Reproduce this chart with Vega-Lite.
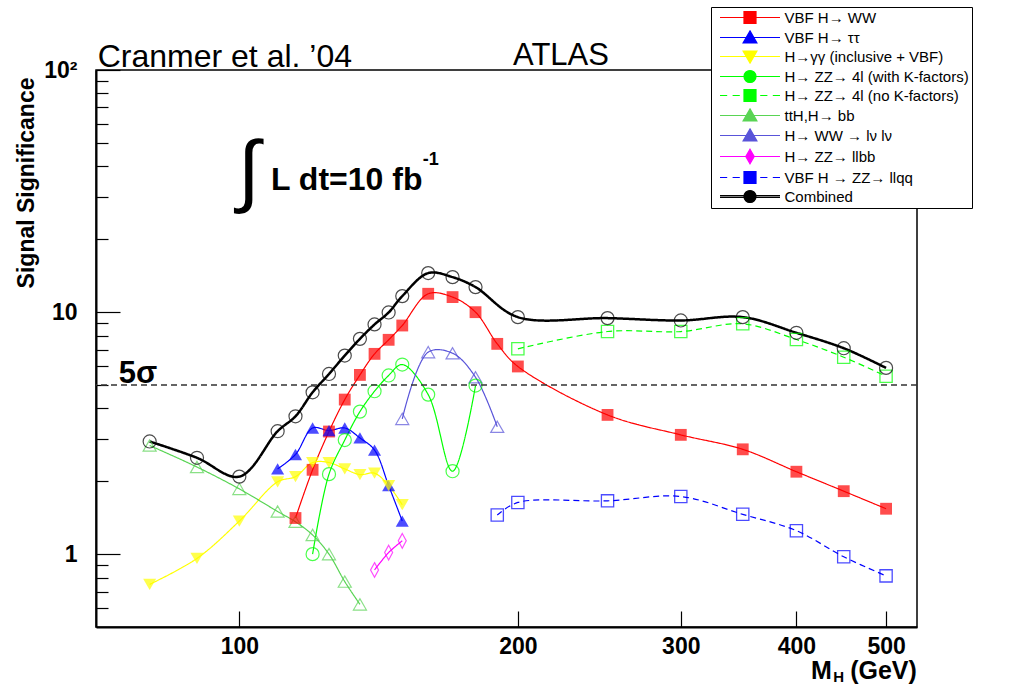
{
  "$schema": "https://vega.github.io/schema/vega-lite/v6.json",
  "autosize": {"type": "none"},
  "padding": {"left": 96, "top": 70, "right": 98, "bottom": 58},
  "width": 821,
  "height": 557,
  "background": "white",
  "config": {
    "font": "Liberation Sans",
    "view": {"stroke": "black", "strokeWidth": 1.5},
    "axis": {"grid": false, "domainColor": "black", "tickColor": "black", "labelColor": "black", "titleColor": "black"},
    "legend": {"symbolFillColor": "transparent", "symbolStrokeColor": "black", "symbolOpacity": 1}
  },
  "data": {
    "values": [
      {"series": "VBF H→ WW", "m": 115, "s": 1.41},
      {"series": "VBF H→ WW", "m": 120, "s": 2.23},
      {"series": "VBF H→ WW", "m": 125, "s": 3.21},
      {"series": "VBF H→ WW", "m": 130, "s": 4.35},
      {"series": "VBF H→ WW", "m": 135, "s": 5.5},
      {"series": "VBF H→ WW", "m": 140, "s": 6.72},
      {"series": "VBF H→ WW", "m": 145, "s": 7.68},
      {"series": "VBF H→ WW", "m": 150, "s": 8.8},
      {"series": "VBF H→ WW", "m": 160, "s": 11.9},
      {"series": "VBF H→ WW", "m": 170, "s": 11.53},
      {"series": "VBF H→ WW", "m": 180, "s": 9.99},
      {"series": "VBF H→ WW", "m": 190, "s": 7.39},
      {"series": "VBF H→ WW", "m": 200, "s": 5.96},
      {"series": "VBF H→ WW", "m": 250, "s": 3.76},
      {"series": "VBF H→ WW", "m": 300, "s": 3.11},
      {"series": "VBF H→ WW", "m": 350, "s": 2.71},
      {"series": "VBF H→ WW", "m": 400, "s": 2.19},
      {"series": "VBF H→ WW", "m": 450, "s": 1.82},
      {"series": "VBF H→ WW", "m": 500, "s": 1.54},
      {"series": "VBF H→ ττ", "m": 110, "s": 2.25},
      {"series": "VBF H→ ττ", "m": 115, "s": 2.58},
      {"series": "VBF H→ ττ", "m": 120, "s": 3.32},
      {"series": "VBF H→ ττ", "m": 125, "s": 3.24},
      {"series": "VBF H→ ττ", "m": 130, "s": 3.32},
      {"series": "VBF H→ ττ", "m": 135, "s": 3.02},
      {"series": "VBF H→ ττ", "m": 140, "s": 2.69},
      {"series": "VBF H→ ττ", "m": 145, "s": 1.92},
      {"series": "VBF H→ ττ", "m": 150, "s": 1.37},
      {"series": "H→γγ (inclusive + VBF)", "m": 80, "s": 0.75},
      {"series": "H→γγ (inclusive + VBF)", "m": 90, "s": 0.96},
      {"series": "H→γγ (inclusive + VBF)", "m": 100, "s": 1.37},
      {"series": "H→γγ (inclusive + VBF)", "m": 110, "s": 1.99},
      {"series": "H→γγ (inclusive + VBF)", "m": 115, "s": 2.09},
      {"series": "H→γγ (inclusive + VBF)", "m": 120, "s": 2.39},
      {"series": "H→γγ (inclusive + VBF)", "m": 125, "s": 2.39},
      {"series": "H→γγ (inclusive + VBF)", "m": 130, "s": 2.25},
      {"series": "H→γγ (inclusive + VBF)", "m": 135, "s": 2.13},
      {"series": "H→γγ (inclusive + VBF)", "m": 140, "s": 2.16},
      {"series": "H→γγ (inclusive + VBF)", "m": 145, "s": 1.92},
      {"series": "H→γγ (inclusive + VBF)", "m": 150, "s": 1.6},
      {"series": "H→ ZZ→ 4l (with K-factors)", "m": 120, "s": 1.0},
      {"series": "H→ ZZ→ 4l (with K-factors)", "m": 125, "s": 2.14},
      {"series": "H→ ZZ→ 4l (with K-factors)", "m": 130, "s": 2.96},
      {"series": "H→ ZZ→ 4l (with K-factors)", "m": 135, "s": 3.88},
      {"series": "H→ ZZ→ 4l (with K-factors)", "m": 140, "s": 4.71},
      {"series": "H→ ZZ→ 4l (with K-factors)", "m": 145, "s": 5.47},
      {"series": "H→ ZZ→ 4l (with K-factors)", "m": 150, "s": 6.07},
      {"series": "H→ ZZ→ 4l (with K-factors)", "m": 160, "s": 4.56},
      {"series": "H→ ZZ→ 4l (with K-factors)", "m": 170, "s": 2.2},
      {"series": "H→ ZZ→ 4l (with K-factors)", "m": 180, "s": 4.97},
      {"series": "H→ ZZ→ 4l (no K-factors)", "m": 200, "s": 7.05},
      {"series": "H→ ZZ→ 4l (no K-factors)", "m": 250, "s": 8.31},
      {"series": "H→ ZZ→ 4l (no K-factors)", "m": 300, "s": 8.31},
      {"series": "H→ ZZ→ 4l (no K-factors)", "m": 350, "s": 8.94},
      {"series": "H→ ZZ→ 4l (no K-factors)", "m": 400, "s": 7.7},
      {"series": "H→ ZZ→ 4l (no K-factors)", "m": 450, "s": 6.51},
      {"series": "H→ ZZ→ 4l (no K-factors)", "m": 500, "s": 5.43},
      {"series": "ttH,H→ bb", "m": 80, "s": 2.81},
      {"series": "ttH,H→ bb", "m": 90, "s": 2.29},
      {"series": "ttH,H→ bb", "m": 100, "s": 1.86},
      {"series": "ttH,H→ bb", "m": 110, "s": 1.5},
      {"series": "ttH,H→ bb", "m": 115, "s": 1.36},
      {"series": "ttH,H→ bb", "m": 120, "s": 1.2},
      {"series": "ttH,H→ bb", "m": 125, "s": 1.0},
      {"series": "ttH,H→ bb", "m": 130, "s": 0.77},
      {"series": "ttH,H→ bb", "m": 135, "s": 0.62},
      {"series": "H→ WW → lν lν", "m": 150, "s": 3.62},
      {"series": "H→ WW → lν lν", "m": 160, "s": 6.83},
      {"series": "H→ WW → lν lν", "m": 170, "s": 6.76},
      {"series": "H→ WW → lν lν", "m": 180, "s": 5.38},
      {"series": "H→ WW → lν lν", "m": 190, "s": 3.36},
      {"series": "H→ ZZ→ llbb", "m": 140, "s": 0.86},
      {"series": "H→ ZZ→ llbb", "m": 145, "s": 1.015},
      {"series": "H→ ZZ→ llbb", "m": 150, "s": 1.135},
      {"series": "VBF H → ZZ→ llqq", "m": 190, "s": 1.45},
      {"series": "VBF H → ZZ→ llqq", "m": 200, "s": 1.635},
      {"series": "VBF H → ZZ→ llqq", "m": 250, "s": 1.66},
      {"series": "VBF H → ZZ→ llqq", "m": 300, "s": 1.73},
      {"series": "VBF H → ZZ→ llqq", "m": 350, "s": 1.46},
      {"series": "VBF H → ZZ→ llqq", "m": 400, "s": 1.25},
      {"series": "VBF H → ZZ→ llqq", "m": 450, "s": 0.975},
      {"series": "VBF H → ZZ→ llqq", "m": 500, "s": 0.813},
      {"series": "Combined", "m": 80, "s": 2.92},
      {"series": "Combined", "m": 90, "s": 2.5},
      {"series": "Combined", "m": 100, "s": 2.09},
      {"series": "Combined", "m": 110, "s": 3.22},
      {"series": "Combined", "m": 115, "s": 3.71},
      {"series": "Combined", "m": 120, "s": 4.66},
      {"series": "Combined", "m": 125, "s": 5.55},
      {"series": "Combined", "m": 130, "s": 6.61},
      {"series": "Combined", "m": 135, "s": 7.75},
      {"series": "Combined", "m": 140, "s": 8.89},
      {"series": "Combined", "m": 145, "s": 9.96},
      {"series": "Combined", "m": 150, "s": 11.64},
      {"series": "Combined", "m": 160, "s": 14.49},
      {"series": "Combined", "m": 170, "s": 13.94},
      {"series": "Combined", "m": 180, "s": 12.68},
      {"series": "Combined", "m": 200, "s": 9.53},
      {"series": "Combined", "m": 250, "s": 9.44},
      {"series": "Combined", "m": 300, "s": 9.23},
      {"series": "Combined", "m": 350, "s": 9.53},
      {"series": "Combined", "m": 400, "s": 8.21},
      {"series": "Combined", "m": 450, "s": 7.09},
      {"series": "Combined", "m": 500, "s": 5.88}
    ]
  },
  "resolve": {"axis": {"x": "independent", "y": "independent"}},
  "layer": [
    {
      "mark": {"type": "point", "filled": false, "opacity": 0},
      "encoding": {
        "x": {"field": "m", "type": "quantitative", "axis": null},
        "y": {"field": "s", "type": "quantitative", "axis": null},
        "color": {
          "field": "series", "type": "nominal",
          "legend": {
            "orient": "none", "legendX": 615, "legendY": -63, "title": null,
            "fillColor": "white", "strokeColor": "black", "padding": 3,
            "labelFont": "Liberation Sans", "labelFontSize": 15, "labelColor": "black", "labelLimit": 400,
            "symbolSize": 144, "symbolStrokeWidth": 1.2, "symbolOffset": 28.5, "labelOffset": 27, "rowPadding": 2,
            "symbolFillColor": "transparent", "symbolStrokeColor": "black", "symbolOpacity": 1
          }
        },
        "shape": {
          "field": "series", "type": "nominal",
          "scale": {
            "domain": ["VBF H→ WW", "VBF H→ ττ", "H→γγ (inclusive + VBF)", "H→ ZZ→ 4l (with K-factors)", "H→ ZZ→ 4l (no K-factors)", "ttH,H→ bb", "H→ WW → lν lν", "H→ ZZ→ llbb", "VBF H → ZZ→ llqq", "Combined"],
            "range": [
              "M-5,0H5M-1,-1H1V1H-1Z",
              "M-5,0H5M0,-1.1L1.15,0.9L-1.15,0.9Z",
              "M-5,0H5M0,1.1L1.15,-0.9L-1.15,-0.9Z",
              "M-5,0H5M-1,0A1,1,0,1,0,1,0A1,1,0,1,0,-1,0Z",
              "M-5,0H-3.8M-2.9,0H-1.7M1.7,0H2.9M3.8,0H5M-1,-1H1V1H-1Z",
              "M-5,0H5M0,-1.1L1.15,0.9L-1.15,0.9Z",
              "M-5,0H5M0,-1.1L1.15,0.9L-1.15,0.9Z",
              "M-5,0H5M0,-1.2L0.7,0L0,1.2L-0.7,0Z",
              "M-5,0H-3.8M-2.9,0H-1.7M1.7,0H2.9M3.8,0H5M-1,-1H1V1H-1Z",
              "M-5,-0.15H5M-5,0.15H5M-1,0A1,1,0,1,0,1,0A1,1,0,1,0,-1,0Z"
            ]
          }
        },
        "fill": {
          "field": "series", "type": "nominal",
          "scale": {
            "domain": ["VBF H→ WW", "VBF H→ ττ", "H→γγ (inclusive + VBF)", "H→ ZZ→ 4l (with K-factors)", "H→ ZZ→ 4l (no K-factors)", "ttH,H→ bb", "H→ WW → lν lν", "H→ ZZ→ llbb", "VBF H → ZZ→ llqq", "Combined"],
            "range": ["#ff0000", "#0000ff", "#ffff00", "transparent", "transparent", "transparent", "transparent", "transparent", "transparent", "transparent"]
          }
        }
      }
    },
    {
      "mark": {"type": "line", "interpolate": "catmull-rom"},
      "encoding": {
        "x": {
          "field": "m", "type": "quantitative",
          "scale": {"type": "log", "domain": [70, 540], "nice": false, "zero": false},
          "axis": {
            "orient": "bottom", "values": [100, 200, 300, 400, 500], "format": "d",
            "tickSize": -16, "tickWidth": 1.2, "domainWidth": 2, "labelPadding": 24,
            "labelFont": "Liberation Sans", "labelFontSize": 23, "labelFontWeight": "bold",
            "labelFlush": false, "labelOverlap": false, "title": null, "grid": false
          }
        },
        "y": {
          "field": "s", "type": "quantitative",
          "scale": {"type": "log", "domain": [0.5, 100], "nice": false, "zero": false},
          "axis": {
            "orient": "left", "values": [1, 10, 100],
            "labelExpr": "datum.value >= 100 ? '10²' : (datum.value >= 10 ? '10' : '1')",
            "tickSize": -24, "tickWidth": 1.2, "domainWidth": 2, "labelPadding": 43,
            "labelFont": "Liberation Sans", "labelFontSize": 23, "labelFontWeight": "bold",
            "labelFlush": false, "labelOverlap": false,
            "title": "Signal Significance", "titleFont": "Liberation Sans", "titleFontSize": 23,
            "titleFontWeight": "bold", "titleAngle": -90, "titleAlign": "right", "titleBaseline": "alphabetic",
            "titleX": -63, "titleY": 7
          }
        },
        "color": {
          "field": "series", "type": "nominal",
          "scale": {
            "domain": ["VBF H→ WW", "VBF H→ ττ", "H→γγ (inclusive + VBF)", "H→ ZZ→ 4l (with K-factors)", "H→ ZZ→ 4l (no K-factors)", "ttH,H→ bb", "H→ WW → lν lν", "H→ ZZ→ llbb", "VBF H → ZZ→ llqq", "Combined"],
            "range": ["#ff0000", "#0000ff", "#ffff00", "#00ff00", "#00ff00", "#59d454", "#5954d9", "#ff00ff", "#0000ff", "#000000"]
          },
          "legend": null
        },
        "strokeWidth": {"condition": {"test": "datum.series === 'Combined'", "value": 2.5}, "value": 1.2},
        "strokeDash": {"condition": {"test": "indexof(['H→ ZZ→ 4l (no K-factors)', 'VBF H → ZZ→ llqq'], datum.series) >= 0", "value": [6, 4]}, "value": [1, 0]}
      }
    },
    {
      "transform": [{"filter": "indexof(['H→ ZZ→ 4l (no K-factors)', 'VBF H → ZZ→ llqq'], datum.series) >= 0"}],
      "mark": {"type": "point", "filled": false, "shape": "square", "size": 150, "strokeWidth": 1.3},
      "encoding": {
        "x": {"field": "m", "type": "quantitative", "axis": null},
        "y": {
          "field": "s", "type": "quantitative",
          "axis": {
            "orient": "left", "values": [0.6, 0.7, 0.8, 0.9, 2, 3, 4, 5, 6, 7, 8, 9, 20, 30, 40, 50, 60, 70, 80, 90],
            "labels": false, "domain": false, "tickSize": -12, "tickWidth": 1.2, "title": null, "grid": false
          }
        },
        "color": {"field": "series", "type": "nominal", "legend": null}
      }
    },
    {
      "transform": [{"filter": "indexof(['ttH,H→ bb', 'H→ WW → lν lν'], datum.series) >= 0"}],
      "mark": {"type": "point", "filled": false, "shape": "triangle-up", "size": 170, "strokeWidth": 1.2},
      "encoding": {
        "x": {"field": "m", "type": "quantitative", "axis": null},
        "y": {"field": "s", "type": "quantitative", "axis": null},
        "color": {"field": "series", "type": "nominal", "legend": null}
      }
    },
    {
      "transform": [{"filter": "datum.series === 'H→ ZZ→ llbb'"}],
      "mark": {"type": "point", "filled": false, "shape": "M0,-1.2L0.65,0L0,1.2L-0.65,0Z", "size": 150, "strokeWidth": 1.2},
      "encoding": {
        "x": {"field": "m", "type": "quantitative", "axis": null},
        "y": {"field": "s", "type": "quantitative", "axis": null},
        "color": {"field": "series", "type": "nominal", "legend": null}
      }
    },
    {
      "transform": [{"filter": "datum.series === 'VBF H→ WW'"}],
      "mark": {"type": "point", "filled": true, "shape": "square", "size": 140, "strokeWidth": 1},
      "encoding": {
        "x": {"field": "m", "type": "quantitative", "axis": null},
        "y": {"field": "s", "type": "quantitative", "axis": null},
        "color": {"field": "series", "type": "nominal", "legend": null}
      }
    },
    {
      "transform": [{"filter": "datum.series === 'VBF H→ ττ'"}],
      "mark": {"type": "point", "filled": true, "shape": "triangle-up", "size": 170, "strokeWidth": 1},
      "encoding": {
        "x": {"field": "m", "type": "quantitative", "axis": null},
        "y": {"field": "s", "type": "quantitative", "axis": null},
        "color": {"field": "series", "type": "nominal", "legend": null}
      }
    },
    {
      "transform": [{"filter": "datum.series === 'H→γγ (inclusive + VBF)'"}],
      "mark": {"type": "point", "filled": true, "shape": "triangle-down", "size": 170, "strokeWidth": 1},
      "encoding": {
        "x": {"field": "m", "type": "quantitative", "axis": null},
        "y": {"field": "s", "type": "quantitative", "axis": null},
        "color": {"field": "series", "type": "nominal", "legend": null}
      }
    },
    {
      "transform": [{"filter": "indexof(['H→ ZZ→ 4l (with K-factors)', 'Combined'], datum.series) >= 0"}],
      "mark": {"type": "point", "filled": false, "shape": "circle", "size": 170, "strokeWidth": 1.2},
      "encoding": {
        "x": {"field": "m", "type": "quantitative", "axis": null},
        "y": {"field": "s", "type": "quantitative", "axis": null},
        "color": {"field": "series", "type": "nominal", "legend": null}
      }
    },
    {
      "data": {"values": [{"label": "5σ"}]},
      "mark": {"type": "rule", "color": "#333333", "strokeWidth": 1.5, "strokeDash": [6, 4]},
      "encoding": {
        "y": {"datum": 5, "type": "quantitative", "axis": null}
      }
    },
    {
      "data": {"values": [{"label": "Cranmer et al. ’04"}]},
      "mark": {"type": "text", "align": "left", "baseline": "alphabetic", "font": "Liberation Sans", "fontSize": 32, "color": "black"},
      "encoding": {"x": {"datum": 70.3, "type": "quantitative", "axis": null}, "y": {"datum": 103.3, "type": "quantitative", "axis": null}, "text": {"field": "label"}}
    },
    {
      "data": {"values": [{"label": "ATLAS"}]},
      "mark": {"type": "text", "align": "left", "baseline": "alphabetic", "font": "Liberation Sans", "fontSize": 31, "color": "black"},
      "encoding": {"x": {"datum": 197.6, "type": "quantitative", "axis": null}, "y": {"datum": 104.8, "type": "quantitative", "axis": null}, "text": {"field": "label"}}
    },
    {
      "data": {"values": [{"label": "∫"}]},
      "mark": {"type": "text", "align": "center", "baseline": "alphabetic", "font": "Liberation Sans", "fontSize": 80, "color": "black"},
      "encoding": {"x": {"datum": 102.4, "type": "quantitative", "axis": null}, "y": {"datum": 29.8, "type": "quantitative", "axis": null}, "text": {"field": "label"}}
    },
    {
      "data": {"values": [{"label": "L dt=10 fb"}]},
      "mark": {"type": "text", "align": "left", "baseline": "alphabetic", "font": "Liberation Sans", "fontSize": 32, "fontWeight": "bold", "color": "black"},
      "encoding": {"x": {"datum": 108.2, "type": "quantitative", "axis": null}, "y": {"datum": 31.85, "type": "quantitative", "axis": null}, "text": {"field": "label"}}
    },
    {
      "data": {"values": [{"label": "-1"}]},
      "mark": {"type": "text", "align": "left", "baseline": "alphabetic", "font": "Liberation Sans", "fontSize": 18, "fontWeight": "bold", "color": "black"},
      "encoding": {"x": {"datum": 157.8, "type": "quantitative", "axis": null}, "y": {"datum": 40.4, "type": "quantitative", "axis": null}, "text": {"field": "label"}}
    },
    {
      "data": {"values": [{"label": "5σ"}]},
      "mark": {"type": "text", "align": "left", "baseline": "alphabetic", "font": "Liberation Sans", "fontSize": 31, "fontWeight": "bold", "color": "black"},
      "encoding": {"x": {"datum": 74.1, "type": "quantitative", "axis": null}, "y": {"datum": 5.07, "type": "quantitative", "axis": null}, "text": {"field": "label"}}
    },
    {
      "data": {"values": [{"label": "(GeV)"}]},
      "mark": {"type": "text", "align": "right", "baseline": "alphabetic", "font": "Liberation Sans", "fontSize": 25, "fontWeight": "bold", "color": "black"},
      "encoding": {"x": {"datum": 539.8, "type": "quantitative", "axis": null}, "y": {"datum": 0.305, "type": "quantitative", "axis": null}, "text": {"field": "label"}}
    },
    {
      "data": {"values": [{"label": "H"}]},
      "mark": {"type": "text", "align": "right", "baseline": "alphabetic", "font": "Liberation Sans", "fontSize": 15, "fontWeight": "bold", "color": "black"},
      "encoding": {"x": {"datum": 450.5, "type": "quantitative", "axis": null}, "y": {"datum": 0.297, "type": "quantitative", "axis": null}, "text": {"field": "label"}}
    },
    {
      "data": {"values": [{"label": "M"}]},
      "mark": {"type": "text", "align": "right", "baseline": "alphabetic", "font": "Liberation Sans", "fontSize": 25, "fontWeight": "bold", "color": "black"},
      "encoding": {"x": {"datum": 436.8, "type": "quantitative", "axis": null}, "y": {"datum": 0.305, "type": "quantitative", "axis": null}, "text": {"field": "label"}}
    }
  ]
}
